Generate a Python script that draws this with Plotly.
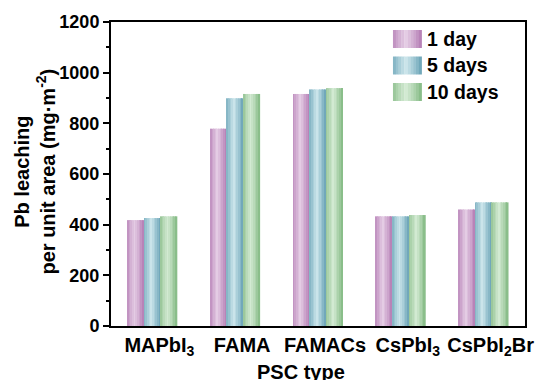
import plotly.graph_objects as go

categories = ["MAPbI<sub>3</sub>", "FAMA", "FAMACs", "CsPbI<sub>3</sub>", "CsPbI<sub>2</sub>Br"]
series_names = ["1 day", "5 days", "10 days"]
day1 = [418, 779, 916, 433, 460]
day5 = [426, 899, 934, 433, 488]
day10 = [433, 916, 939, 438, 488]
series_values = [day1, day5, day10]

y_ticks = [0, 200, 400, 600, 800, 1000, 1200]

# style: edge (dark) and highlight (light) colours for cylinder shading
edge_cols = [(176, 118, 176), (98, 158, 178), (126, 182, 126)]
light_cols = [(228, 204, 228), (202, 228, 234), (210, 234, 210)]

K = 10
group_w = 0.6
bar_w = group_w / 3
strip_w = bar_w / K

W, H = 546, 380
ML, MR, MT, MB = 111, 18, 22, 54
PW, PH = W - ML - MR, H - MT - MB


def mix(a, b, f):
    return "rgb(%d,%d,%d)" % tuple(round(a[i] + (b[i] - a[i]) * f) for i in range(3))


def shade(t):
    return max(0.0, 1 - abs(t - 0.45) / 0.55) ** 0.8


def px_x(p):
    return (p - ML) / PW


def px_y(p):
    return (H - MB - p) / PH


fig = go.Figure()
for s, (name, vals) in enumerate(zip(series_names, series_values)):
    for j in range(K):
        t = (j + 0.5) / K
        fig.add_trace(go.Bar(
            x=categories, y=vals,
            offset=-group_w / 2 + s * bar_w + j * strip_w,
            width=strip_w * 1.05,
            marker=dict(color=mix(edge_cols[s], light_cols[s], shade(t)), line=dict(width=0)),
            name=name, legendgroup=name, showlegend=False,
            hoverinfo="skip",
        ))

font_family = "Liberation Sans, Arial, sans-serif"

# custom legend with shaded swatches
shapes = []
annotations = []
sw_x0, sw_w, sw_h = 395, 29, 18
row_y0, row_dy = 30, 26.5
for s, name in enumerate(series_names):
    y0 = row_y0 + s * row_dy
    for j in range(K):
        t = (j + 0.5) / K
        shapes.append(dict(
            type="rect", xref="paper", yref="paper",
            x0=px_x(sw_x0 + j * sw_w / K), x1=px_x(sw_x0 + (j + 1.05) * sw_w / K),
            y0=px_y(y0 + sw_h), y1=px_y(y0),
            fillcolor=mix(edge_cols[s], light_cols[s], shade(t)), line=dict(width=0),
            layer="above",
        ))
    annotations.append(dict(
        text="<b>%s</b>" % name, xref="paper", yref="paper",
        x=px_x(sw_x0 + sw_w + 3), y=px_y(y0 + sw_h / 2),
        xanchor="left", yanchor="middle", showarrow=False,
        font=dict(size=19.5, family=font_family, color="black"),
    ))

annotations.append(dict(
    text="<b>PSC type</b>", xref="paper", yref="paper", x=px_x(302), y=px_y(359),
    xanchor="center", yanchor="top", showarrow=False,
    font=dict(size=20, family=font_family, color="black"),
))
annotations.append(dict(
    text="<b>Pb leaching<br>per unit area (mg·m<sup>-2</sup>)</b>",
    xref="paper", yref="paper", x=px_x(34), y=px_y(172),
    xanchor="center", yanchor="middle", textangle=-90, showarrow=False,
    font=dict(size=20, family=font_family, color="black"),
))

fig.update_layout(
    width=W, height=H,
    margin=dict(l=ML, r=MR, t=MT, b=MB),
    barmode="overlay",
    plot_bgcolor="white", paper_bgcolor="white",
    font=dict(family=font_family, size=17, color="black"),
    showlegend=False,
    shapes=shapes, annotations=annotations,
    xaxis=dict(
        type="category", range=[-0.5, 4.5],
        showline=True, linecolor="black", linewidth=2, mirror=True,
        ticks="", tickfont=dict(size=20, family=font_family), ticklabelshift=7,
        tickvals=categories, ticktext=["<b>%s</b>" % c for c in categories],
        showgrid=False,
    ),
    yaxis=dict(
        range=[0, 1200], tickvals=y_ticks, ticktext=["<b>%d</b>" % v for v in y_ticks],
        showline=True, linecolor="black", linewidth=2, mirror=True,
        ticks="outside", ticklen=6, tickwidth=2, tickcolor="black",
        minor=dict(ticks="outside", ticklen=3, tickwidth=1.5, dtick=100, tickcolor="black"),
        tickfont=dict(size=18, family=font_family),
        showgrid=False, zeroline=False,
    ),
)
fig.write_html("out.html", config={"displayModeBar": False},
               post_script="document.body.style.margin='0';document.body.style.overflow='hidden';")
